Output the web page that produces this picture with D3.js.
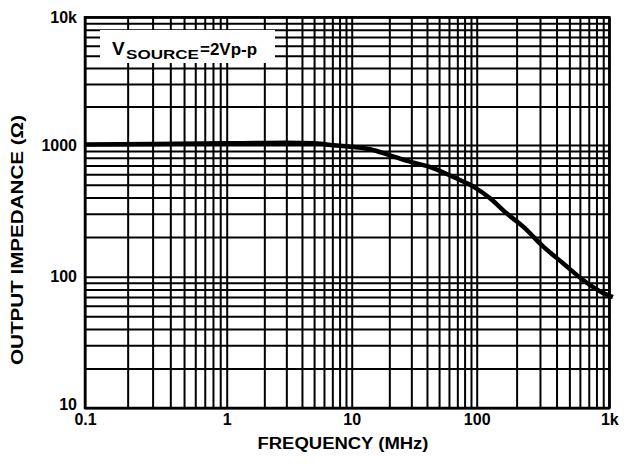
<!DOCTYPE html>
<html>
<head>
<meta charset="utf-8">
<script src="https://cdn.jsdelivr.net/npm/d3@7"></script>
<style>
  html, body { margin: 0; padding: 0; background: #fff; }
  svg { display: block; }
  text { font-family: "Liberation Sans", Arial, Helvetica, sans-serif; font-weight: bold; fill: #000; }
</style>
</head>
<body>
<svg id="chart" width="633" height="464"></svg>
<script>
// ---- data ----
const freqMHz = [0.1, 0.3, 1, 2, 3, 5, 7.6, 9.7, 14, 20, 28.8, 41.5, 60, 73.5, 94, 126, 168, 224, 318, 450, 637, 902, 1065];
const impedanceOhm = [1010, 1020, 1030, 1038, 1040, 1030, 990, 971, 928, 839, 750, 684, 592, 542, 483, 394, 303, 240, 169, 126, 94, 75, 70];
const xTickValues = [0.1, 1, 10, 100, 1000];
const xTickLabels = ["0.1", "1", "10", "100", "1k"];
const yTickValues = [10, 100, 1000, 10000];
const yTickLabels = ["10", "100", "1000", "10k"];
const xTitle = "FREQUENCY (MHz)";
const yTitle = "OUTPUT IMPEDANCE (Ω)";

// ---- layout ----
const svg = d3.select("#chart");
const pL = 85, pR = 609.3, pT = 17.3, pB = 408;

// piecewise log scales (scanned grid is slightly irregular per decade)
const x = d3.scaleLog().domain(xTickValues).range([85, 226.7, 351.7, 476.7, 609.3]);
const y = d3.scaleLog().domain(yTickValues).range([408, 276.7, 145, 17.3]);

function decadeGrid(vals) {
  const out = [];
  for (let i = 0; i < vals.length - 1; i++) {
    for (let m = 1; m <= 9; m++) out.push(vals[i] * m);
  }
  out.push(vals[vals.length - 1]);
  return out;
}
const gridX = decadeGrid(xTickValues);
const gridY = decadeGrid(yTickValues);

// grid lines via axes
const gx = svg.append("g").attr("transform", `translate(0,${pB})`)
  .call(d3.axisBottom(x).tickValues(gridX).tickSize(-(pB - pT)).tickFormat(""));
gx.select(".domain").remove();
gx.selectAll(".tick line").attr("stroke", "#000").attr("stroke-width", 2);

const gy = svg.append("g").attr("transform", `translate(${pL},0)`)
  .call(d3.axisLeft(y).tickValues(gridY).tickSize(-(pR - pL)).tickFormat(""));
gy.select(".domain").remove();
gy.selectAll(".tick line").attr("stroke", "#000").attr("stroke-width", 2);

// legend box (white, covers grid)
svg.append("rect").attr("x", 100).attr("y", 30).attr("width", 175).attr("height", 33).attr("fill", "#fff");
svg.append("text").attr("x", 112).attr("y", 55).attr("font-size", 19).text("V");
svg.append("text").attr("x", 126).attr("y", 58.5).attr("font-size", 12.5)
  .attr("textLength", 73).attr("lengthAdjust", "spacingAndGlyphs").text("SOURCE");
svg.append("text").attr("x", 200).attr("y", 55).attr("font-size", 16.5)
  .attr("textLength", 57).attr("lengthAdjust", "spacingAndGlyphs").text("=2Vp-p");

// frame
svg.append("rect").attr("x", pL).attr("y", pT).attr("width", pR - pL).attr("height", pB - pT)
  .attr("fill", "none").attr("stroke", "#000").attr("stroke-width", 2.5);

// curve
const line = d3.line().x(d => x(d[0])).y(d => y(d[1])).curve(d3.curveMonotoneX);
svg.append("path").datum(freqMHz.map((f, i) => [f, impedanceOhm[i]]))
  .attr("d", line).attr("fill", "none").attr("stroke", "#000").attr("stroke-width", 4.5)
  .attr("stroke-linejoin", "round");

// tick labels via axes
const ax = svg.append("g").attr("transform", `translate(0,${pB})`)
  .call(d3.axisBottom(x).tickValues(xTickValues).tickFormat((d, i) => xTickLabels[i]).tickSize(0).tickPadding(6));
ax.select(".domain").remove();
ax.selectAll("text").attr("font-size", 16).attr("font-family", null).attr("fill", "#000");

const ay = svg.append("g").attr("transform", `translate(${pL},0)`)
  .call(d3.axisLeft(y).tickValues(yTickValues).tickFormat((d, i) => yTickLabels[i]).tickSize(0).tickPadding(8));
ay.select(".domain").remove();
ay.selectAll("text").attr("font-size", 16).attr("font-family", null).attr("fill", "#000");
ay.selectAll(".tick").filter(d => d === 10).select("text").attr("dy", "0.1em");

// titles
svg.append("text").attr("x", 343).attr("y", 449).attr("text-anchor", "middle").attr("font-size", 16)
  .attr("textLength", 171).attr("lengthAdjust", "spacingAndGlyphs").text(xTitle);
svg.append("text").attr("transform", "translate(23,240) rotate(-90)").attr("text-anchor", "middle").attr("font-size", 16)
  .attr("textLength", 250).attr("lengthAdjust", "spacingAndGlyphs").text(yTitle);
</script>
</body>
</html>
